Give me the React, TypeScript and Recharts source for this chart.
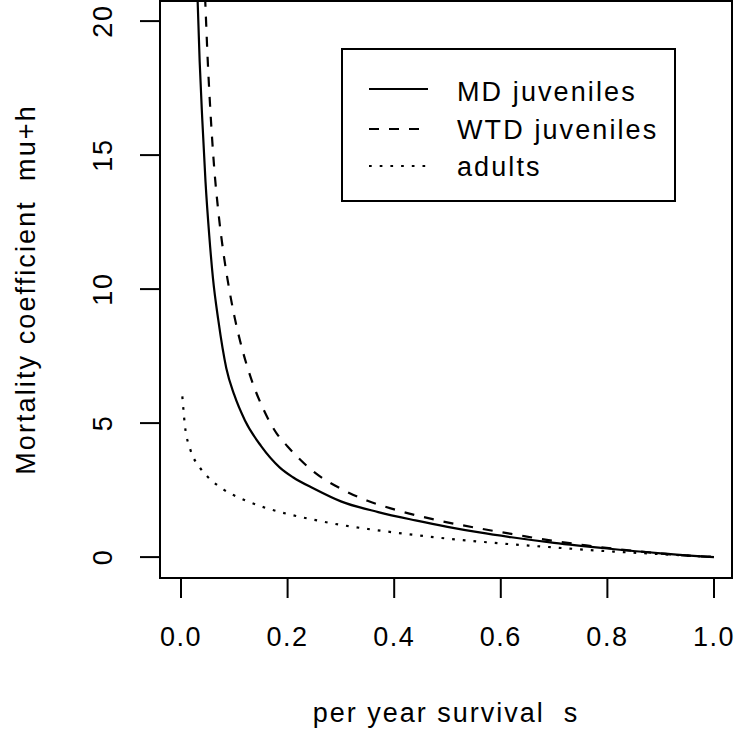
import { LineChart, Line, XAxis, YAxis, ReferenceArea, Legend } from 'recharts';

// values
const X_TICKS = [0, 0.2, 0.4, 0.6, 0.8, 1.0];
const Y_TICKS = [0, 5, 10, 15, 20];

const mdS = [0.028, 0.0313, 0.035, 0.04, 0.046, 0.053, 0.06, 0.07, 0.085, 0.1, 0.12, 0.15, 0.185, 0.21, 0.25, 0.3, 0.37, 0.44, 0.5, 0.56, 0.62, 0.7, 0.8, 0.9, 1.0];
const mdV = [23.2, 20.7, 18.5, 16.3, 14.0, 12.0, 10.4, 8.84, 7.05, 6.05, 5.1, 4.15, 3.35, 2.98, 2.55, 2.08, 1.68, 1.37, 1.13, 0.92, 0.74, 0.53, 0.32, 0.14, 0];

const wtdS = [0.042, 0.046, 0.05, 0.055, 0.062, 0.07, 0.08, 0.09, 0.1, 0.115, 0.13, 0.155, 0.18, 0.2, 0.25, 0.3, 0.35, 0.4, 0.48, 0.56, 0.63, 0.7, 0.76, 0.84, 0.92, 1.0];
const wtdV = [22.4, 20.5, 18.6, 16.7, 14.6, 12.9, 11.3, 10.05, 9.0, 7.75, 6.75, 5.5, 4.6, 4.13, 3.17, 2.55, 2.1, 1.78, 1.38, 1.07, 0.83, 0.6, 0.44, 0.25, 0.1, 0];

const adultS = [0.0025, 0.0075, 0.017, 0.035, 0.05, 0.08, 0.12, 0.16, 0.2, 0.25, 0.3, 0.35, 0.4, 0.5, 0.6, 0.7, 0.8, 0.9, 1.0];
const adultV = [6.0, 4.88, 4.05, 3.35, 3.0, 2.52, 2.12, 1.83, 1.61, 1.39, 1.2, 1.05, 0.92, 0.69, 0.51, 0.36, 0.22, 0.11, 0];

const SERIES_NAMES = ['MD juveniles', 'WTD juveniles', 'adults'];

const toPoints = (s: number[], v: number[]) => s.map((x, i) => ({ s: x, v: v[i] }));

const series = [
  { name: SERIES_NAMES[0], data: toPoints(mdS, mdV), dash: undefined as string | undefined },
  { name: SERIES_NAMES[1], data: toPoints(wtdS, wtdV), dash: '10 10' },
  { name: SERIES_NAMES[2], data: toPoints(adultS, adultV), dash: '2.7 8' },
];

const FONT = '"Liberation Sans", Arial, Helvetica, sans-serif';
const FS = 27;
const X_DOMAIN: [number, number] = [-0.0394, 1.0338];
const Y_DOMAIN: [number, number] = [-0.78, 20.75];

function XTick(props: any) {
  const { x, y, payload } = props;
  return (
    <text x={x} y={y + 46} textAnchor="middle" fontFamily={FONT} fontSize={FS} letterSpacing={1.5} fill="#000">
      {payload.value.toFixed(1)}
    </text>
  );
}

function YTick(props: any) {
  const { x, y, payload } = props;
  const bx = x - 26;
  return (
    <text x={bx} y={y} transform={`rotate(-90, ${bx}, ${y})`} textAnchor="middle" fontFamily={FONT} fontSize={FS} letterSpacing={1.5} fill="#000">
      {payload.value}
    </text>
  );
}

function XTitle(props: any) {
  const vb = props.viewBox || { x: 160, y: 578, width: 572, height: 158 };
  return (
    <text x={vb.x + vb.width / 2} y={vb.y + 144} textAnchor="middle" fontFamily={FONT} fontSize={FS} letterSpacing={2} fill="#000" style={{ whiteSpace: 'pre' }}>
      {'per year survival  s'}
    </text>
  );
}

function YTitle(props: any) {
  const vb = props.viewBox || { x: 0, y: 1, width: 160, height: 577 };
  const bx = vb.x + 35;
  const cy = vb.y + vb.height / 2;
  return (
    <text x={bx} y={cy} transform={`rotate(-90, ${bx}, ${cy})`} textAnchor="middle" fontFamily={FONT} fontSize={FS} letterSpacing={2.1} fill="#000" style={{ whiteSpace: 'pre' }}>
      {'Mortality coefficient  mu+h'}
    </text>
  );
}

function LegendBox() {
  const rows = [41, 81, 118];
  const baselines = [53, 91, 128];
  return (
    <svg width={336} height={155} style={{ display: 'block' }}>
      <rect x={1} y={1} width={333} height={152} fill="#fff" stroke="#000" strokeWidth={2} />
      {series.map((d, i) => (
        <g key={d.name}>
          <line x1={28} x2={87} y1={rows[i]} y2={rows[i]} stroke="#000" strokeWidth={2.2} strokeDasharray={d.dash} />
          <text x={116} y={baselines[i]} fontFamily={FONT} fontSize={FS} letterSpacing={2.1} fill="#000">
            {d.name}
          </text>
        </g>
      ))}
    </svg>
  );
}

export default function App() {
  return (
    <div style={{ position: 'absolute', left: 0, top: 0, width: 736, height: 736, background: '#fff' }}>
      <LineChart width={736} height={736} margin={{ top: 1, right: 4, bottom: 0, left: 0 }}>
        <XAxis
          type="number"
          dataKey="s"
          domain={X_DOMAIN}
          ticks={X_TICKS}
          allowDataOverflow
          height={158}
          tickSize={20}
          axisLine={false}
          tickLine={{ stroke: '#000', strokeWidth: 2 }}
          tick={<XTick />}
          label={<XTitle />}
        />
        <YAxis
          type="number"
          dataKey="v"
          domain={Y_DOMAIN}
          ticks={Y_TICKS}
          allowDataOverflow
          width={160}
          tickSize={20}
          axisLine={false}
          tickLine={{ stroke: '#000', strokeWidth: 2 }}
          tick={<YTick />}
          label={<YTitle />}
        />
        <ReferenceArea
          x1={X_DOMAIN[0]}
          x2={X_DOMAIN[1]}
          y1={Y_DOMAIN[0]}
          y2={Y_DOMAIN[1]}
          fill="none"
          stroke="#000"
          strokeWidth={2}
          ifOverflow="visible"
        />
        {series.map((d) => (
          <Line
            key={d.name}
            data={d.data}
            dataKey="v"
            name={d.name}
            type="monotone"
            stroke="#000"
            strokeWidth={2.2}
            strokeDasharray={d.dash}
            dot={false}
            activeDot={false}
            isAnimationActive={false}
          />
        ))}
        <Legend
          layout="vertical"
          align="center"
          verticalAlign="middle"
          content={() => <LegendBox />}
          wrapperStyle={{ top: 48, left: 341, width: 336, height: 155 }}
        />
      </LineChart>
    </div>
  );
}
